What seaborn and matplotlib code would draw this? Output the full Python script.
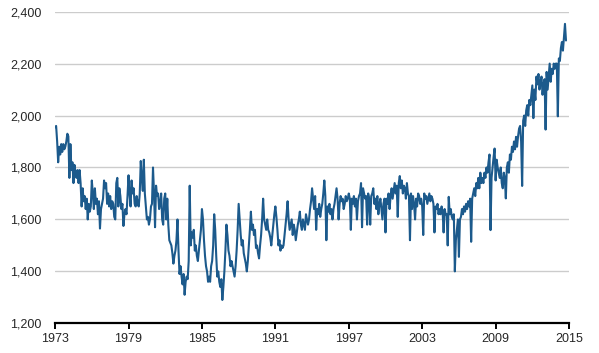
import numpy as np
import pandas as pd
import seaborn as sns
import matplotlib.pyplot as plt
from matplotlib.ticker import FuncFormatter

# monthly values, Jan 1973 .. Oct 2014
y1973 = [1955, 1960, 1900, 1820, 1880, 1850, 1890, 1860, 1890, 1870, 1880, 1900]
y1974 = [1930, 1920, 1760, 1890, 1790, 1820, 1740, 1810, 1780, 1760, 1790, 1740]
y1975 = [1790, 1740, 1650, 1720, 1670, 1690, 1640, 1680, 1600, 1660, 1630, 1650]
y1976 = [1750, 1700, 1640, 1720, 1660, 1680, 1620, 1670, 1565, 1640, 1660, 1680]
y1977 = [1750, 1720, 1740, 1660, 1700, 1650, 1690, 1640, 1670, 1660, 1610, 1600]
y1978 = [1740, 1760, 1650, 1720, 1690, 1640, 1660, 1575, 1620, 1640, 1620, 1690]
y1979 = [1770, 1700, 1650, 1750, 1700, 1720, 1660, 1650, 1690, 1660, 1650, 1700]
y1980 = [1825, 1760, 1710, 1830, 1700, 1650, 1600, 1610, 1580, 1600, 1650, 1660]
y1981 = [1800, 1700, 1570, 1730, 1690, 1700, 1640, 1660, 1700, 1600, 1580, 1680]
y1982 = [1700, 1600, 1680, 1580, 1520, 1510, 1500, 1470, 1430, 1460, 1480, 1520]
y1983 = [1600, 1480, 1390, 1420, 1380, 1350, 1390, 1310, 1360, 1380, 1370, 1440]
y1984 = [1730, 1500, 1550, 1530, 1560, 1480, 1500, 1460, 1440, 1480, 1520, 1560]
y1985 = [1640, 1600, 1520, 1460, 1420, 1400, 1360, 1380, 1360, 1420, 1440, 1500]
y1986 = [1620, 1560, 1460, 1380, 1400, 1360, 1340, 1370, 1290, 1340, 1400, 1480]
y1987 = [1580, 1540, 1480, 1460, 1420, 1440, 1420, 1400, 1380, 1420, 1480, 1560]
y1988 = [1660, 1600, 1540, 1500, 1520, 1470, 1450, 1430, 1400, 1440, 1500, 1560]
y1989 = [1630, 1560, 1580, 1540, 1560, 1490, 1500, 1470, 1450, 1500, 1540, 1600]
y1990 = [1680, 1600, 1580, 1560, 1600, 1560, 1550, 1530, 1500, 1540, 1580, 1620]
y1991 = [1650, 1610, 1560, 1500, 1520, 1480, 1500, 1490, 1500, 1540, 1580, 1620]
y1992 = [1670, 1600, 1560, 1580, 1600, 1540, 1580, 1560, 1520, 1550, 1580, 1600]
y1993 = [1630, 1580, 1560, 1600, 1580, 1560, 1620, 1600, 1580, 1600, 1640, 1670]
y1994 = [1720, 1680, 1640, 1690, 1560, 1640, 1620, 1660, 1610, 1640, 1660, 1700]
y1995 = [1750, 1690, 1520, 1650, 1630, 1660, 1620, 1640, 1600, 1640, 1660, 1690]
y1996 = [1720, 1680, 1600, 1660, 1690, 1670, 1680, 1640, 1660, 1690, 1670, 1680]
y1997 = [1700, 1680, 1560, 1680, 1660, 1690, 1650, 1680, 1600, 1670, 1690, 1700]
y1998 = [1740, 1570, 1720, 1700, 1680, 1690, 1580, 1700, 1680, 1580, 1690, 1700]
y1999 = [1720, 1660, 1680, 1640, 1690, 1620, 1660, 1680, 1640, 1600, 1660, 1680]
y2000 = [1550, 1680, 1660, 1700, 1640, 1690, 1720, 1680, 1710, 1740, 1700, 1730]
y2001 = [1610, 1740, 1767, 1720, 1750, 1700, 1730, 1720, 1680, 1740, 1700, 1690]
y2002 = [1520, 1700, 1640, 1690, 1660, 1600, 1680, 1650, 1700, 1690, 1660, 1680]
y2003 = [1650, 1540, 1700, 1680, 1690, 1660, 1680, 1700, 1670, 1690, 1680, 1660]
y2004 = [1550, 1650, 1640, 1660, 1620, 1640, 1620, 1650, 1630, 1550, 1640, 1620]
y2005 = [1620, 1500, 1687, 1620, 1640, 1610, 1600, 1620, 1400, 1520, 1560, 1600]
y2006 = [1456, 1600, 1610, 1640, 1620, 1650, 1630, 1660, 1640, 1670, 1650, 1680]
y2007 = [1514, 1680, 1700, 1720, 1690, 1740, 1720, 1760, 1720, 1780, 1740, 1760]
y2008 = [1740, 1780, 1760, 1800, 1780, 1820, 1850, 1559, 1760, 1800, 1840, 1873]
y2009 = [1750, 1830, 1800, 1780, 1760, 1800, 1740, 1720, 1780, 1760, 1681, 1800]
y2010 = [1820, 1780, 1850, 1830, 1880, 1860, 1900, 1870, 1918, 1880, 1920, 1950]
y2011 = [1960, 1900, 1729, 1980, 2000, 1960, 2020, 2040, 2000, 2060, 2040, 2080]
y2012 = [2116, 1990, 2100, 2060, 2150, 2120, 2160, 2100, 2130, 2150, 2080, 2120]
y2013 = [2140, 1946, 2168, 2100, 2150, 2200, 2130, 2180, 2160, 2200, 2180, 2200]
y2014 = [2200, 1997, 2220, 2210, 2260, 2283, 2250, 2300, 2353, 2289]

years = [y1973, y1974, y1975, y1976, y1977, y1978, y1979, y1980, y1981, y1982,
         y1983, y1984, y1985, y1986, y1987, y1988, y1989, y1990, y1991, y1992,
         y1993, y1994, y1995, y1996, y1997, y1998, y1999, y2000, y2001, y2002,
         y2003, y2004, y2005, y2006, y2007, y2008, y2009, y2010, y2011, y2012,
         y2013, y2014]
values = [v for yr in years for v in yr]

x_ticks = [1973, 1979, 1985, 1991, 1997, 2003, 2009, 2015]
y_ticks = [1200, 1400, 1600, 1800, 2000, 2200, 2400]

df = pd.DataFrame({"value": values})
df["year"] = 1973 + np.arange(len(df)) / 12.0

sns.set_style("white")
plt.rcParams["font.family"] = ["Liberation Sans", "DejaVu Sans"]

fig = plt.figure(figsize=(5.99, 3.53), dpi=100)
ax = fig.add_axes([0.092, 0.084, 0.858, 0.883])

sns.lineplot(data=df, x="year", y="value", ax=ax, color="#1c5a8c", linewidth=1.5)

ax.set_xlim(1973, 2015)
ax.set_ylim(1200, 2400)
ax.set_xticks(x_ticks)
ax.set_yticks(y_ticks)
ax.yaxis.set_major_formatter(FuncFormatter(lambda v, p: f"{int(v):,}"))
ax.set_xlabel("")
ax.set_ylabel("")

ax.grid(axis="y", color="#cccccc", linewidth=1)
ax.set_axisbelow(True)
for s in ["left", "right", "top"]:
    ax.spines[s].set_visible(False)
ax.spines["bottom"].set_color("black")
ax.spines["bottom"].set_linewidth(1.6)
ax.tick_params(axis="x", bottom=True, direction="out", length=4, width=1.4,
               color="black", labelsize=9, pad=3)
ax.tick_params(axis="y", left=False, length=0, labelsize=9, pad=10)

fig.savefig("out.png", dpi=100)
